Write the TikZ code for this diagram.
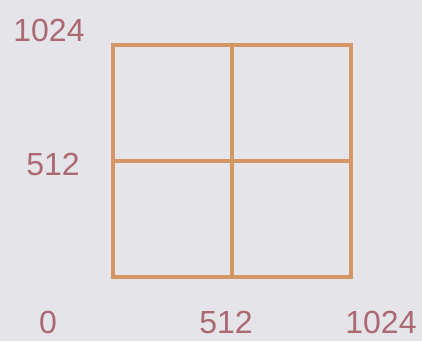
\documentclass[tikz,border=0pt]{standalone}
\usepackage{fontspec}
\setmainfont{Liberation Sans}
\definecolor{bg}{RGB}{229,229,233}
\definecolor{gridc}{RGB}{212,150,100}
\definecolor{labc}{RGB}{170,105,115}
\begin{document}
\begin{tikzpicture}[x=1pt,y=-1pt,
  lab/.style={text=labc,font=\fontsize{32}{32}\selectfont,inner sep=0pt},
  gl/.style={draw=gridc,line width=3.5pt}]
\fill[bg] (0,0) rectangle (422,341);
\useasboundingbox (0,0) rectangle (422,341);
\coordinate (tl) at (113,45);
\coordinate (br) at (351,277);
\coordinate (tm) at (232,45);
\coordinate (bm) at (232,277);
\coordinate (lm) at (113,161);
\coordinate (rm) at (351,161);
\draw[gl] (tl) rectangle (br);
\draw[gl] (tm) -- (bm);
\draw[gl] (lm) -- (rm);
\node[lab] (y1024) at (49,30) {1024};
\node[lab] (y512) at (53,164) {512};
\node[lab] (x0) at (48,322) {0};
\node[lab] (x512) at (226,322) {512};
\node[lab] (x1024) at (381,322) {1024};
\end{tikzpicture}
\end{document}
